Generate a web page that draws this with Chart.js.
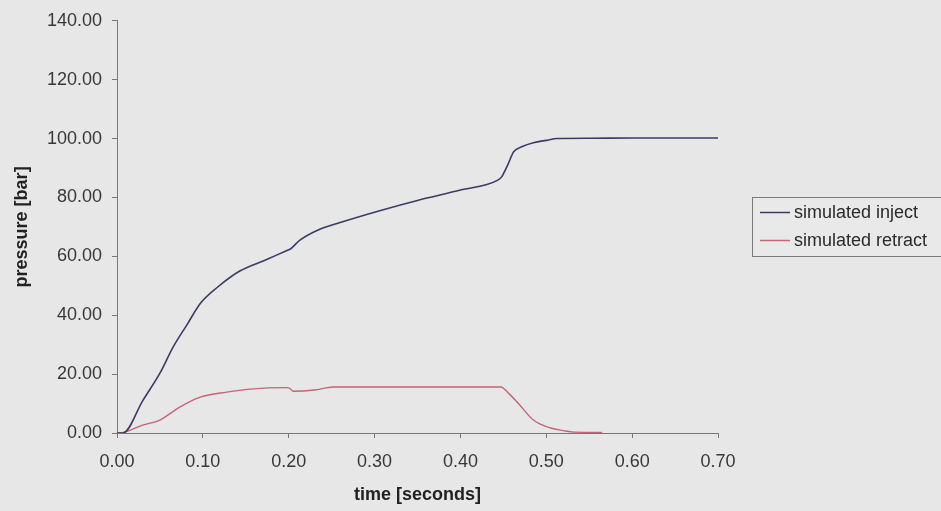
<!DOCTYPE html>
<html>
<head>
<meta charset="utf-8">
<script src="https://cdn.jsdelivr.net/npm/chart.js@4.4.0/dist/chart.umd.min.js"></script>
<style>
  body { margin: 0; background: #e7e7e7; }
  #wrap { width: 941px; height: 511px; }
</style>
</head>
<body>
<div id="wrap"><canvas id="chart" width="941" height="511"></canvas></div>
<script>
// values
const seriesNames = ["simulated inject", "simulated retract"];

const injectTime = [0, 0.007, 0.03, 0.05, 0.065, 0.082, 0.097, 0.117, 0.143, 0.175, 0.198, 0.202, 0.213, 0.233, 0.26, 0.307, 0.35, 0.40, 0.443, 0.448, 0.455, 0.462, 0.472, 0.485, 0.50, 0.513, 0.55, 0.60, 0.70];
const injectPressure = [0, 0, 11, 20.3, 29, 37, 44, 49.5, 55, 59, 62, 62.5, 65.5, 68.8, 71.5, 75.6, 79, 82.5, 85.8, 87, 91, 95.5, 97.3, 98.6, 99.4, 100, 100.1, 100.2, 100.2];

const retractTime = [0, 0.003, 0.03, 0.05, 0.073, 0.097, 0.128, 0.155, 0.198, 0.201, 0.205, 0.23, 0.252, 0.30, 0.40, 0.447, 0.457, 0.467, 0.485, 0.505, 0.52, 0.532, 0.565];
const retractPressure = [0, 0, 2.7, 4.4, 8.8, 12.2, 13.9, 14.9, 15.4, 15.2, 14.2, 14.6, 15.6, 15.6, 15.6, 15.6, 13.2, 10.2, 4.4, 1.7, 0.8, 0.3, 0.2];

const xTicks = [0, 0.1, 0.2, 0.3, 0.4, 0.5, 0.6, 0.7];
const yTicks = [0, 20, 40, 60, 80, 100, 120, 140];

const lineColors = ["#3b3b66", "#c46474"];
const fontFamily = "'Liberation Sans', Arial, sans-serif";

const toPoints = (xs, ys) => xs.map((x, i) => ({ x: x, y: ys[i] }));

// excel style legend box on the right
const boxLegend = {
  id: "boxLegend",
  afterDraw(chart) {
    const ctx = chart.ctx;
    const x0 = 752, y0 = 197, w = 189, h = 59;
    ctx.save();
    ctx.fillStyle = "#e9e9e9";
    ctx.fillRect(x0, y0, w, h);
    ctx.strokeStyle = "#7a7a7a";
    ctx.lineWidth = 1;
    ctx.strokeRect(x0 + 0.5, y0 + 0.5, w, h);
    ctx.font = "18px " + fontFamily;
    ctx.textBaseline = "middle";
    chart.data.datasets.forEach((ds, i) => {
      const yy = y0 + 15 + i * 28;
      ctx.strokeStyle = ds.borderColor;
      ctx.lineWidth = 1.5;
      ctx.beginPath();
      ctx.moveTo(x0 + 8, yy + 0.5);
      ctx.lineTo(x0 + 38, yy + 0.5);
      ctx.stroke();
      ctx.fillStyle = "#2a2a2a";
      ctx.fillText(ds.label, x0 + 42, yy + 1);
    });
    ctx.restore();
  }
};

new Chart(document.getElementById("chart"), {
  type: "line",
  data: {
    datasets: [
      {
        label: seriesNames[0],
        data: toPoints(injectTime, injectPressure),
        borderColor: lineColors[0],
        borderWidth: 1.6,
        pointRadius: 0,
        cubicInterpolationMode: "monotone"
      },
      {
        label: seriesNames[1],
        data: toPoints(retractTime, retractPressure),
        borderColor: lineColors[1],
        borderWidth: 1.4,
        pointRadius: 0,
        cubicInterpolationMode: "monotone"
      }
    ]
  },
  options: {
    responsive: false,
    animation: false,
    layout: { padding: { left: 0, right: 223, top: 20, bottom: 0 } },
    plugins: {
      legend: { display: false },
      tooltip: { enabled: false }
    },
    scales: {
      x: {
        type: "linear",
        min: 0,
        max: 0.7,
        afterBuildTicks: (axis) => { axis.ticks = xTicks.map(v => ({ value: v })); },
        afterFit: (axis) => { axis.height = 78; },
        ticks: {
          callback: (v) => v.toFixed(2),
          color: "#383838",
          font: { family: fontFamily, size: 18 },
          padding: 13,
          maxRotation: 0
        },
        grid: { drawOnChartArea: false, tickLength: 5, color: "#777" },
        border: { color: "#777", width: 1 },
        title: {
          display: true,
          text: "time [seconds]",
          color: "#222",
          font: { family: fontFamily, size: 18, weight: "bold" },
          padding: { top: 2, bottom: 5 }
        }
      },
      y: {
        min: 0,
        max: 140,
        afterBuildTicks: (axis) => { axis.ticks = yTicks.map(v => ({ value: v })); },
        afterFit: (axis) => { axis.width = 117; },
        ticks: {
          callback: (v) => v.toFixed(2),
          color: "#383838",
          font: { family: fontFamily, size: 18 },
          padding: 10
        },
        grid: { drawOnChartArea: false, tickLength: 5, color: "#777" },
        border: { color: "#777", width: 1 },
        title: {
          display: true,
          text: "pressure [bar]",
          color: "#222",
          font: { family: fontFamily, size: 18, weight: "bold" },
          padding: { top: 11, bottom: 0 }
        }
      }
    }
  },
  plugins: [boxLegend]
});
</script>
</body>
</html>
